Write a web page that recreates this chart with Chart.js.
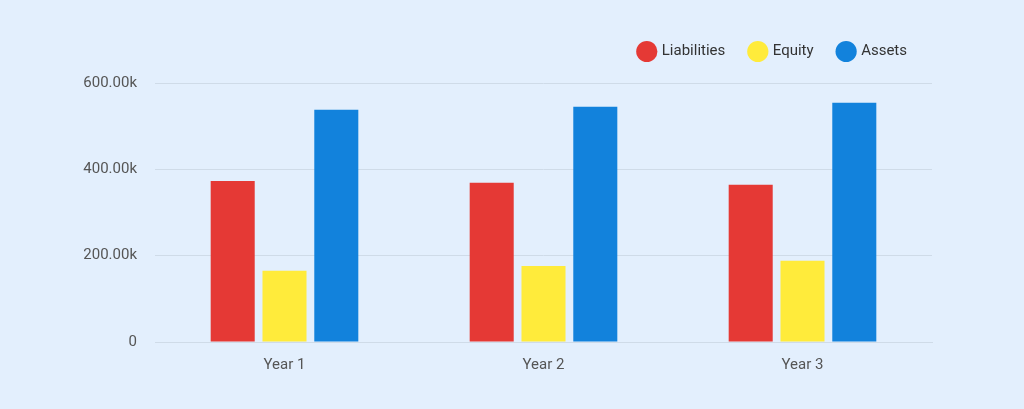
<!DOCTYPE html>
<html>
<head>
<meta charset="utf-8">
<script src="https://cdn.jsdelivr.net/npm/chart.js@4"></script>
<style>
  html, body { margin: 0; padding: 0; background: #e3effd; }
  #wrap { width: 1024px; height: 409px; }
</style>
</head>
<body>
<div id="wrap"><canvas id="app" width="1024" height="409"></canvas></div>
<script>
const categories = ['Year 1', 'Year 2', 'Year 3'];
const liabilities = [373000, 369000, 364000];
const equity = [165000, 176000, 188000];
const assets = [538000, 545000, 554000];
const seriesNames = ['Liabilities', 'Equity', 'Assets'];
const colors = ['#e53935', '#ffeb3b', '#1282dc'];

const datasets = [liabilities, equity, assets].map((values, i) => ({
  label: seriesNames[i],
  data: values,
  backgroundColor: colors[i],
  borderWidth: 0,
  barPercentage: 0.85,
  categoryPercentage: 0.6,
}));

// push the plot area down a bit below the legend
const legendSpacer = {
  id: 'legendSpacer',
  beforeInit(chart) {
    const fit = chart.legend.fit;
    chart.legend.fit = function () {
      fit.bind(chart.legend)();
      this.height += 14;
    };
  },
};

new Chart(document.getElementById('app'), {
  type: 'bar',
  data: { labels: categories, datasets },
  plugins: [legendSpacer],
  options: {
    responsive: false,
    animation: false,
    layout: { padding: { left: 0, right: 92, top: 19, bottom: 29 } },
    plugins: {
      tooltip: { enabled: false },
      legend: {
        align: 'end',
        labels: {
          usePointStyle: true,
          pointStyle: 'circle',
          boxWidth: 17,
          boxHeight: 17,
          padding: 25,
          color: '#333',
          font: { family: 'Roboto', size: 15 },
        },
      },
    },
    scales: {
      x: {
        grid: { display: false },
        border: { color: '#cfdbe8' },
        ticks: { color: '#555', font: { family: 'Roboto', size: 15 }, padding: 6 },
      },
      y: {
        min: 0,
        max: 600000,
        afterFit: (s) => { s.width = 155; },
        border: { display: false },
        grid: { color: '#cfdbe8', drawTicks: false },
        ticks: {
          stepSize: 200000,
          padding: 18,
          color: '#555',
          font: { family: 'Roboto', size: 15 },
          callback: (v) => v === 0 ? '0' : (v / 1000).toFixed(2) + 'k',
        },
      },
    },
  },
});
</script>
</body>
</html>
